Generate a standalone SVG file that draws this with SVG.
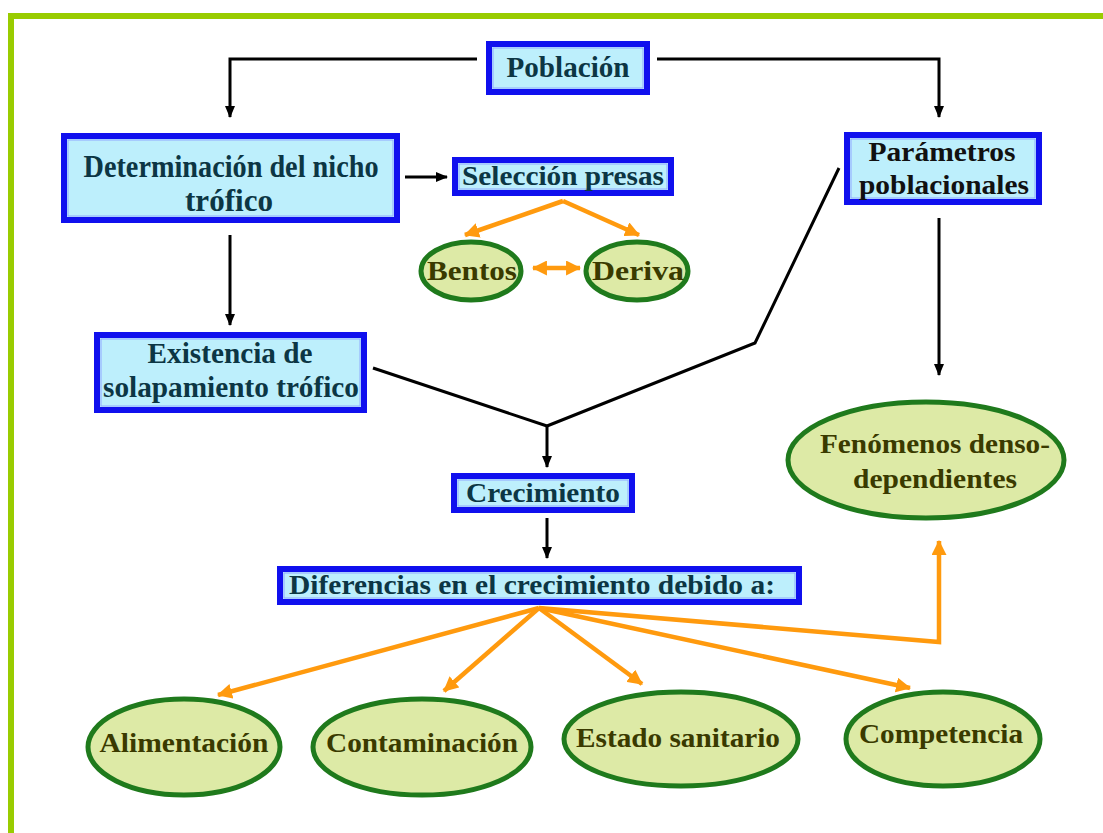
<svg xmlns="http://www.w3.org/2000/svg" width="1103" height="833" viewBox="0 0 1103 833">
<defs>
<style>
.box{fill:#BDEFFC;stroke:#1010EE;stroke-width:6}
.inner{fill:none;stroke:#8FA8FF;stroke-width:1}
.ell{fill:#DDEAA6;stroke:#1F7A1C;stroke-width:5}
.bt{font-family:"Liberation Serif","Times New Roman",serif;font-weight:bold;fill:#0C3644;text-anchor:middle}
.et{font-family:"Liberation Serif","Times New Roman",serif;font-weight:bold;fill:#3A3A00;text-anchor:middle}
.pt{fill:#111111}
.blk{fill:none;stroke:#000;stroke-width:3}
.org{fill:none;stroke:#FF9A0E;stroke-width:4.5}
</style>
<marker id="ab" viewBox="0 0 12 12" refX="11" refY="6" markerWidth="12" markerHeight="12" markerUnits="userSpaceOnUse" orient="auto">
<path d="M0,1 L12,6 L0,11 z" fill="#000"/>
</marker>
<marker id="ao" viewBox="0 0 14 14" refX="13" refY="7" markerWidth="15" markerHeight="15" markerUnits="userSpaceOnUse" orient="auto-start-reverse">
<path d="M0,0 L14,7 L0,14 z" fill="#FF9A0E"/>
</marker>
</defs>
<rect x="0" y="0" width="1103" height="833" fill="#FFFFFF"/>
<g id="frame">
<rect x="8" y="13" width="1095" height="6" fill="#99CC00"/>
<rect x="8" y="13" width="6" height="820" fill="#99CC00"/>
</g>
<g id="connectors">
<polyline class="blk" points="477,59 230,59 230,117" marker-end="url(#ab)"/>
<polyline class="blk" points="657,59 939,59 939,117" marker-end="url(#ab)"/>
<line class="blk" x1="405" y1="177" x2="447" y2="177" marker-end="url(#ab)"/>
<line class="blk" x1="230" y1="235" x2="230" y2="325" marker-end="url(#ab)"/>
<polyline class="blk" points="373,368 547,426"/>
<polyline class="blk" points="839,168 755,343 547,426"/>
<line class="blk" x1="547" y1="426" x2="547" y2="467" marker-end="url(#ab)"/>
<line class="blk" x1="939" y1="218" x2="939" y2="375" marker-end="url(#ab)"/>
<line class="blk" x1="547" y1="518" x2="547" y2="558" marker-end="url(#ab)"/>
<line class="org" x1="563" y1="201" x2="465" y2="235" marker-end="url(#ao)"/>
<line class="org" x1="563" y1="201" x2="639" y2="235" marker-end="url(#ao)"/>
<line class="org" x1="533" y1="268" x2="580" y2="268" stroke-width="4" marker-start="url(#ao)" marker-end="url(#ao)"/>
<line class="org" x1="539" y1="608" x2="218" y2="695" marker-end="url(#ao)"/>
<line class="org" x1="539" y1="608" x2="444" y2="691" stroke-width="3.5" marker-end="url(#ao)"/>
<line class="org" x1="539" y1="608" x2="642" y2="684" marker-end="url(#ao)"/>
<line class="org" x1="539" y1="608" x2="910" y2="688" marker-end="url(#ao)"/>
<polyline class="org" points="539,608 939,642 939,541" marker-end="url(#ao)"/>
</g>
<g id="poblacion">
<rect class="box" x="489" y="44" width="158" height="48"/>
<rect class="inner" x="493" y="48" width="150" height="40"/>
<text class="bt" x="568" y="77" font-size="30" textLength="123" lengthAdjust="spacingAndGlyphs">Población</text>
</g>
<g id="determinacion">
<rect class="box" x="64" y="136" width="333" height="84"/>
<rect class="inner" x="68" y="140" width="325" height="76"/>
<text class="bt" x="231" y="177" font-size="32" textLength="295" lengthAdjust="spacingAndGlyphs">Determinación del nicho</text>
<text class="bt" x="229" y="211" font-size="32" textLength="88" lengthAdjust="spacingAndGlyphs">trófico</text>
</g>
<g id="seleccion">
<rect class="box" x="455" y="160" width="216" height="33"/>
<rect class="inner" x="459" y="164" width="208" height="25"/>
<text class="bt" x="563" y="185" font-size="27" textLength="202" lengthAdjust="spacingAndGlyphs">Selección presas</text>
</g>
<g id="parametros">
<rect class="box" x="847" y="135" width="192" height="67"/>
<rect class="inner" x="851" y="139" width="184" height="59"/>
<text class="bt pt" x="942" y="161" font-size="28" textLength="147" lengthAdjust="spacingAndGlyphs">Parámetros</text>
<text class="bt pt" x="944" y="194" font-size="28" textLength="170" lengthAdjust="spacingAndGlyphs">poblacionales</text>
</g>
<g id="bentos">
<ellipse class="ell" cx="471" cy="271" rx="50" ry="29"/>
<text class="et" x="472" y="280" font-size="27" textLength="90" lengthAdjust="spacingAndGlyphs">Bentos</text>
</g>
<g id="deriva">
<ellipse class="ell" cx="637" cy="271" rx="51" ry="29"/>
<text class="et" x="638" y="280" font-size="27" textLength="92" lengthAdjust="spacingAndGlyphs">Deriva</text>
</g>
<g id="existencia">
<rect class="box" x="97" y="335" width="267" height="75"/>
<rect class="inner" x="101" y="339" width="259" height="67"/>
<text class="bt" x="230" y="363" font-size="30" textLength="165" lengthAdjust="spacingAndGlyphs">Existencia de</text>
<text class="bt" x="231" y="397" font-size="30" textLength="256" lengthAdjust="spacingAndGlyphs">solapamiento trófico</text>
</g>
<g id="crecimiento">
<rect class="box" x="454" y="476" width="178" height="34"/>
<rect class="inner" x="458" y="480" width="170" height="26"/>
<text class="bt" x="543" y="502" font-size="28" textLength="154" lengthAdjust="spacingAndGlyphs">Crecimiento</text>
</g>
<g id="diferencias">
<rect class="box" x="280" y="569" width="519" height="33"/>
<rect class="inner" x="284" y="573" width="511" height="25"/>
<text class="bt" x="532" y="594" font-size="27" textLength="486" lengthAdjust="spacingAndGlyphs">Diferencias en el crecimiento debido a:</text>
</g>
<g id="fenomenos">
<ellipse class="ell" cx="926" cy="460" rx="138" ry="58"/>
<text class="et" x="935" y="453" font-size="28" textLength="230" lengthAdjust="spacingAndGlyphs">Fenómenos denso-</text>
<text class="et" x="935" y="488" font-size="28" textLength="164" lengthAdjust="spacingAndGlyphs">dependientes</text>
</g>
<g id="alimentacion">
<ellipse class="ell" cx="184" cy="747" rx="96" ry="48"/>
<text class="et" x="184" y="752" font-size="28" textLength="169" lengthAdjust="spacingAndGlyphs">Alimentación</text>
</g>
<g id="contaminacion">
<ellipse class="ell" cx="422" cy="747" rx="109" ry="48"/>
<text class="et" x="422" y="752" font-size="28" textLength="192" lengthAdjust="spacingAndGlyphs">Contaminación</text>
</g>
<g id="estado">
<ellipse class="ell" cx="681" cy="739" rx="117" ry="47"/>
<text class="et" x="678" y="747" font-size="28" textLength="204" lengthAdjust="spacingAndGlyphs">Estado sanitario</text>
</g>
<g id="competencia">
<ellipse class="ell" cx="943" cy="739" rx="97" ry="47"/>
<text class="et" x="941" y="743" font-size="28" textLength="164" lengthAdjust="spacingAndGlyphs">Competencia</text>
</g>
</svg>
